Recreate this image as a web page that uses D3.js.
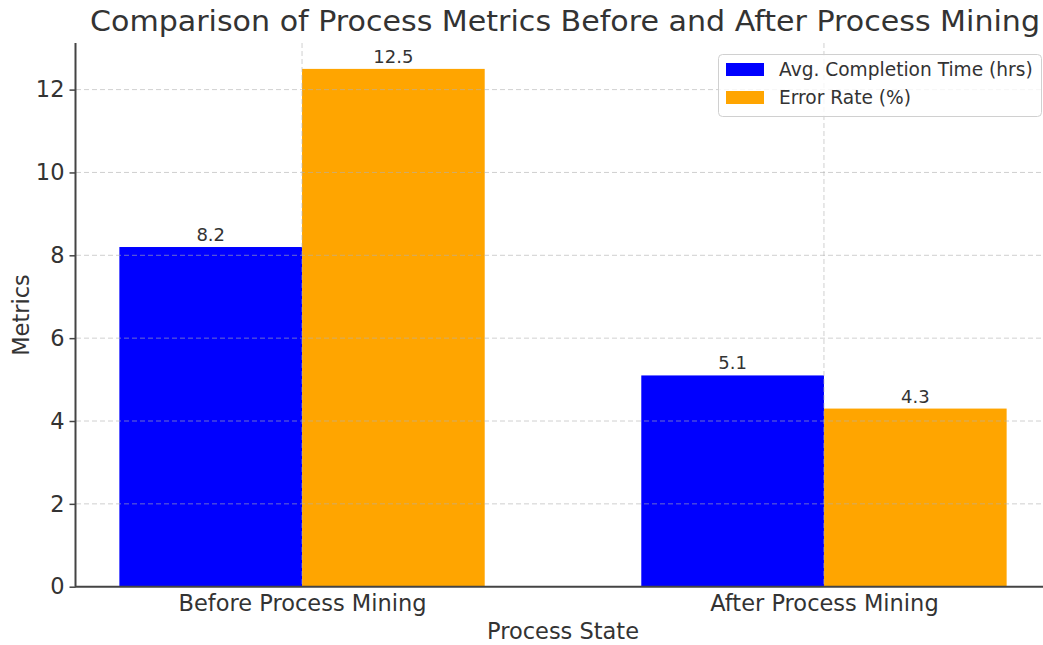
<!DOCTYPE html>
<html><head><meta charset="utf-8">
<script src="https://cdn.jsdelivr.net/npm/d3@7"></script>
<style>
html,body{margin:0;padding:0;background:#fff;}
svg{display:block;font-family:"DejaVu Sans",sans-serif;}
</style></head>
<body>
<svg id="chart" width="1043" height="645"></svg>
<script>
const categories = ["Before Process Mining", "After Process Mining"];
const seriesNames = ["Avg. Completion Time (hrs)", "Error Rate (%)"];
const completionTime = [8.2, 5.1];
const errorRate = [12.5, 4.3];
const yTicks = [0, 2, 4, 6, 8, 10, 12];
const colors = ["#0000ff", "#ffa500"];
const title = "Comparison of Process Metrics Before and After Process Mining";
const xLabel = "Process State";
const yLabel = "Metrics";

const series = [completionTime, errorRate];
const barW = 0.35;
const textColor = "#333333";

const svg = d3.select("#chart");
const x = d3.scaleLinear().domain([-0.435, 1.435]).range([75, 1051]);
const y = d3.scaleLinear().domain([0, 13.125]).range([586.7, 43]);

// bars
series.forEach((vals, s) => {
  svg.append("g").selectAll("rect").data(vals).join("rect")
    .attr("x", (d, i) => x(i + (s - 1) * barW))
    .attr("width", x(barW) - x(0))
    .attr("y", d => y(d))
    .attr("height", d => y(0) - y(d))
    .attr("fill", colors[s]);
});

// grid (on top of bars)
const grid = svg.append("g").attr("stroke", "#b0b0b0").attr("stroke-opacity", 0.6)
  .attr("stroke-dasharray", "5,3").attr("stroke-width", 1);
grid.selectAll(".hg").data(yTicks.filter(t => t > 0)).join("line")
  .attr("x1", 76).attr("x2", 1043).attr("y1", d => y(d)).attr("y2", d => y(d));
grid.selectAll(".vg").data(categories).join("line")
  .attr("x1", (d, i) => x(i)).attr("x2", (d, i) => x(i)).attr("y1", 43).attr("y2", 586);

// value labels
series.forEach((vals, s) => {
  svg.append("g").selectAll("text").data(vals).join("text")
    .attr("x", (d, i) => x(i + (s - 0.5) * barW))
    .attr("y", d => y(d) - 6)
    .attr("text-anchor", "middle")
    .attr("font-size", 18).attr("fill", textColor)
    .text(d => d.toFixed(1));
});

// axes
const yAxis = d3.axisLeft(y).tickValues(yTicks).tickSize(6).tickPadding(5).tickFormat(d3.format("d"));
const gy = svg.append("g").attr("transform", "translate(75.5,0)").call(yAxis);
gy.select(".domain").attr("d", `M0,${y(13.125)}V${y(0)}`).attr("stroke", "#444").attr("stroke-width", 2);
gy.selectAll(".tick line").attr("stroke", "#444").attr("stroke-width", 1.5);
gy.selectAll(".tick text").attr("font-size", 22.5).attr("fill", textColor).attr("font-family", "DejaVu Sans");

const xAxis = d3.axisBottom(x).tickValues([0, 1]).tickSize(0).tickPadding(8).tickFormat(i => categories[i]);
const gx = svg.append("g").attr("transform", `translate(0,${y(0)})`).call(xAxis);
gx.select(".domain").attr("d", `M75,0H1051`).attr("stroke", "#444").attr("stroke-width", 2);
gx.selectAll(".tick line").remove();
gx.selectAll(".tick text").attr("font-size", 22.5).attr("fill", textColor).attr("font-family", "DejaVu Sans");

// labels
svg.append("text").attr("x", 565).attr("y", 31).attr("text-anchor", "middle")
  .attr("font-size", 29).attr("textLength", 950).attr("lengthAdjust", "spacingAndGlyphs")
  .attr("fill", textColor).text(title);
svg.append("text").attr("x", 563).attr("y", 639).attr("text-anchor", "middle")
  .attr("font-size", 22.5).attr("fill", textColor).text(xLabel);
svg.append("text").attr("transform", "translate(29,315) rotate(-90)").attr("text-anchor", "middle")
  .attr("font-size", 22.5).attr("fill", textColor).text(yLabel);

// legend
const lg = svg.append("g");
lg.append("rect").attr("x", 718.5).attr("y", 54.5).attr("width", 323).attr("height", 62)
  .attr("rx", 4).attr("fill", "#fff").attr("fill-opacity", 0.8).attr("stroke", "#d0d0d0");
seriesNames.forEach((n, s) => {
  lg.append("rect").attr("x", 726).attr("y", 63 + s * 28).attr("width", 38).attr("height", 13).attr("fill", colors[s]);
  lg.append("text").attr("x", 779).attr("y", 76 + s * 28).attr("font-size", 18.6).attr("fill", textColor).text(n);
});
</script>
</body></html>
